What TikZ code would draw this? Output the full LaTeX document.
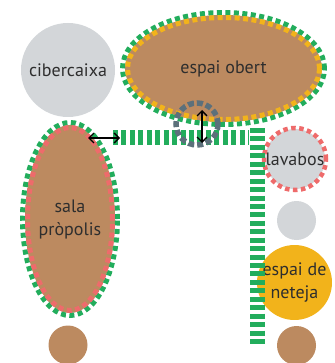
\documentclass[tikz,border=0pt]{standalone}
\usepackage{fontspec}
\setmainfont{PT Sans}
\usetikzlibrary{shapes.geometric,arrows.meta}
\definecolor{cbrown}{HTML}{BC8A60}
\definecolor{cgray}{HTML}{D3D6D9}
\definecolor{cgreen}{HTML}{22AD5C}
\definecolor{corange}{HTML}{F2B31B}
\definecolor{cpink}{HTML}{EE6B6B}
\definecolor{cslate}{HTML}{5C707B}
\definecolor{ctext}{HTML}{2E2E2E}
\tikzset{
  lbl/.style={text=ctext,font=\fontsize{18}{23}\selectfont,align=center,inner sep=0pt},
  blob/.style={lbl,ellipse,draw=none},
  dot/.style={circle,inner sep=0pt,draw=none},
  greendash/.style={draw=cgreen,line width=5pt,dash pattern=on 5pt off 3.5pt},
  innerdash/.style={line width=5pt,dash pattern=on 5pt off 3.5pt},
  corridor/.style={draw=cgreen,line width=15pt,dash pattern=on 5pt off 3.44pt},
  dbl/.style={{Straight Barb[length=5pt,width=10pt]}-{Straight Barb[length=5pt,width=10pt]},line width=1.4pt,black}
}
\begin{document}
\begin{tikzpicture}[x=1pt,y=-1pt]
\useasboundingbox (0,0) rectangle (334,363);
% cibercaixa
\node[blob,circle,fill=cgray,minimum size=94pt] (ciber) at (68,70) {cibercaixa};
% sala propolis
\node[blob,fill=cbrown,minimum width=90pt,minimum height=188pt] (sala) at (70,219) {sala\\pròpolis};
\draw[greendash] (sala.center) ellipse [x radius=47.5pt,y radius=96.5pt];
\draw[innerdash,draw=cpink] (sala.center) ellipse [x radius=42.5pt,y radius=91.5pt];
% espai obert
\node[blob,fill=cbrown,minimum width=197pt,minimum height=107pt] (obert) at (223.5,68.5) {espai obert};
\draw[greendash] (obert.center) ellipse [x radius=101pt,y radius=56pt];
\draw[innerdash,draw=corange] (obert.center) ellipse [x radius=96pt,y radius=51pt];
% lavabos
\node[blob,circle,fill=cgray,minimum size=60pt] (lav) at (295,159) {lavabos};
\draw[line width=4.5pt,dash pattern=on 4.5pt off 3.5pt,draw=cpink] (lav.center) circle [radius=31pt];
% small circles
\node[dot,fill=cgray,minimum size=39pt] (g2) at (296.5,220.5) {};
\node[blob,circle,fill=corange,minimum size=65pt] (net) at (294.5,282.5) {espai de\\neteja};
\node[dot,fill=cbrown,minimum size=39pt] (b1) at (68,345) {};
\node[dot,fill=cbrown,minimum size=39pt] (b2) at (296.5,345.5) {};
% corridors
\coordinate (h1) at (113,137.5);
\coordinate (h2) at (249,137.5);
\coordinate (v1) at (257.5,128);
\coordinate (v2) at (257.5,344);
\draw[corridor] (h1) -- (h2);
\draw[corridor] (v1) -- (v2);
% gray ring
\coordinate (ring) at (197,124);
\draw[draw=cslate,line width=5.5pt,dash pattern=on 6pt off 3pt] (ring) circle [radius=21pt];
% arrows
\coordinate (a1) at (88,138);
\coordinate (a2) at (120,138);
\coordinate (a3) at (202,110);
\coordinate (a4) at (202,143);
\draw[dbl] (a1) -- (a2);
\draw[dbl] (a3) -- (a4);
\end{tikzpicture}
\end{document}
